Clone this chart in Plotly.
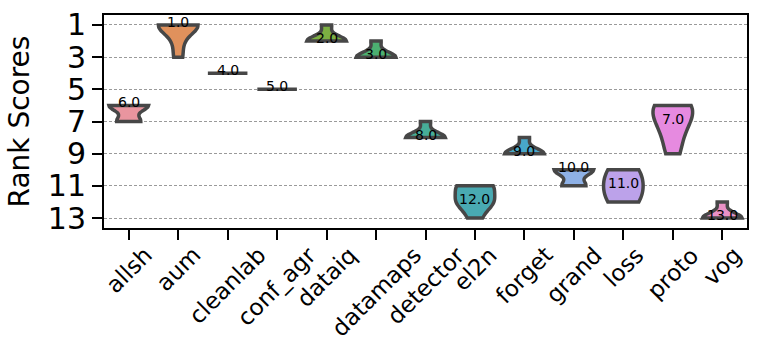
import numpy as np
import plotly.graph_objects as go

# rank of each method on every dataset
methods = ["allsh", "aum", "cleanlab", "conf_agr", "dataiq", "datamaps", "detector",
           "el2n", "forget", "grand", "loss", "proto", "vog"]

allsh = [6, 6, 6, 6, 6, 7, 7, 7]
aum = [1, 1, 1, 1, 1, 2, 3]
cleanlab = [4, 4, 4, 4, 4]
conf_agr = [5, 5, 5, 5, 5]
dataiq = [1, 2, 2, 2, 2]
datamaps = [2, 3, 3, 3, 3]
detector = [7, 8, 8, 8, 8]
el2n = [11, 11, 11, 12, 12, 12, 13]
forget = [8, 9, 9, 9, 9]
grand = [10, 10, 10, 10, 10, 11, 11, 11]
loss = [10, 11, 12]
proto = [6, 6, 6, 7, 7, 8, 9]
vog = [12, 13, 13, 13, 13]

ranks = [allsh, aum, cleanlab, conf_agr, dataiq, datamaps, detector,
         el2n, forget, grand, loss, proto, vog]

colors = ["#e9959f", "#e0915c", "#c4a04a", "#a4ab46", "#7cb042", "#4cb071", "#47ae98",
          "#49aab2", "#48a7c9", "#8eb1e6", "#bca2ea", "#e68ae0", "#ea91c6"]

EDGE = "#474747"
FONT = "DejaVu Sans"

fig = go.Figure()

for name, vals, col in zip(methods, ranks, colors):
    vals = np.array(vals, dtype=float)
    sd = vals.std(ddof=1)
    if sd == 0:
        # no spread: seaborn draws just a flat line
        fig.add_trace(go.Box(
            x=[name] * len(vals), y=vals, width=0.8,
            fillcolor="rgba(0,0,0,0)", line=dict(color=EDGE, width=3.5),
            boxpoints=False, showlegend=False, hoverinfo="skip",
        ))
        continue
    bw = sd * len(vals) ** (-1 / 5)  # scott
    fig.add_trace(go.Violin(
        x=[name] * len(vals), y=vals, width=0.8, bandwidth=bw,
        spanmode="hard", scalemode="width", points=False,
        fillcolor=col, line=dict(color=EDGE, width=3.5), opacity=1,
        box_visible=False, meanline_visible=False,
        showlegend=False, hoverinfo="skip",
    ))

# median labels
for name, vals in zip(methods, ranks):
    med = float(np.median(vals))
    fig.add_annotation(
        x=name, y=med, text=f"{med:.1f}", showarrow=False, yshift=3,
        font=dict(family=FONT, size=14, color="black"),
    )

# x tick labels, rotated and centred on the tick like matplotlib rotation=45
for name in methods:
    fig.add_annotation(
        x=name, xref="x", y=0, yref="paper", text=name, showarrow=False,
        textangle=-45, xanchor="center", yanchor="top", yshift=-11,
        font=dict(family=FONT, size=23, color="black"),
    )

fig.update_layout(
    width=761, height=341,
    margin=dict(l=104, r=14, t=15, b=113),
    plot_bgcolor="white", paper_bgcolor="white",
    violinmode="overlay", boxmode="overlay",
    font=dict(family=FONT, color="black"),
)
fig.update_xaxes(
    type="category", categoryorder="array", categoryarray=methods,
    range=[-0.5, len(methods) - 0.5], automargin=False, showticklabels=False,
    ticks="outside", ticklen=10, tickwidth=1.5, tickcolor="black",
    showline=True, linecolor="black", linewidth=2, mirror=True,
    showgrid=False,
)
fig.update_yaxes(
    range=[13.62, 0.38], tickvals=[1, 3, 5, 7, 9, 11, 13], automargin=False,
    tickfont=dict(size=30), title=dict(text="Rank Scores", font=dict(size=28), standoff=10),
    ticks="outside", ticklen=10, tickwidth=1.5, tickcolor="black",
    showline=True, linecolor="black", linewidth=2, mirror=True,
    showgrid=True, gridcolor="#9a9a9a", griddash="3px,2px", gridwidth=1,
    zeroline=False,
)

fig.write_html("out.html", config={"displayModeBar": False},
               post_script="document.body.style.margin='0';")
